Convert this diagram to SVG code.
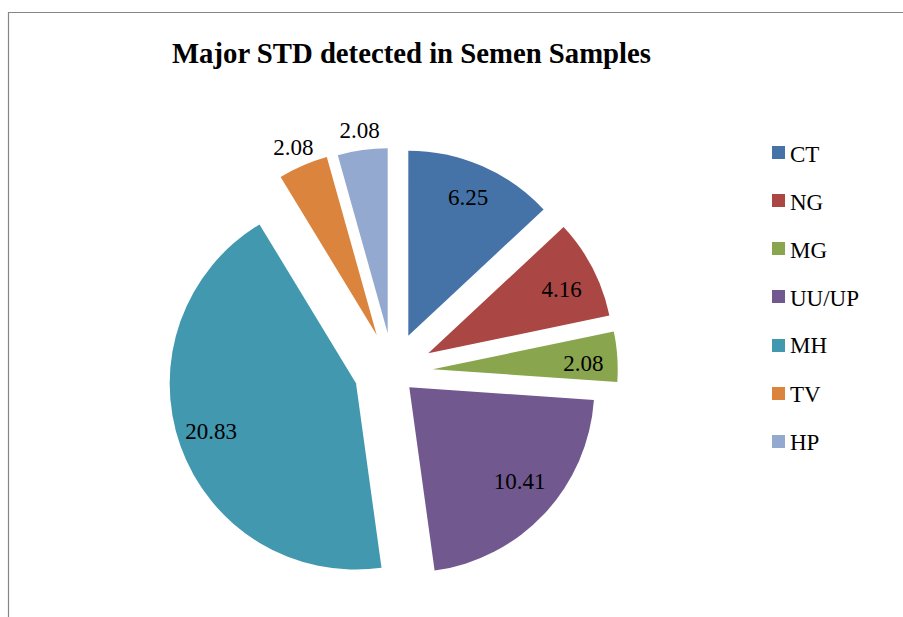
<svg xmlns="http://www.w3.org/2000/svg" width="903" height="617" viewBox="0 0 903 617">
<style>
.lbl{font-family:"Liberation Serif","Times New Roman",serif;font-size:23px;fill:#000;text-anchor:middle}
.leg{font-family:"Liberation Serif","Times New Roman",serif;font-size:23px;fill:#000}
.title{font-family:"Liberation Serif","Times New Roman",serif;font-size:30px;font-weight:bold;fill:#000;text-anchor:middle}
</style>
<rect width="903" height="617" fill="#fff"/>
<path d="M8.5,617 V12.5 H903" fill="none" stroke="#868686" stroke-width="1.2"/>
<text class="title" x="411.5" y="63" textLength="479" lengthAdjust="spacingAndGlyphs">Major STD detected in Semen Samples</text>
<g id="slice-CT"><path d="M408.3,335.7 L408.3,150.7 A185,185 0 0 1 543.6,209.5 Z" fill="#4572A7"/><text class="lbl" x="468" y="205">6.25</text></g>
<g id="slice-NG"><path d="M428.3,353.3 L563.6,227.1 A185,185 0 0 1 609.4,315.6 Z" fill="#AA4643"/><text class="lbl" x="561.5" y="297">4.16</text></g>
<g id="slice-MG"><path d="M432.7,369.3 L613.8,331.6 A185,185 0 0 1 617.3,381.9 Z" fill="#89A54E"/><text class="lbl" x="583.3" y="371">2.08</text></g>
<g id="slice-UUUP"><path d="M409.3,387.3 L593.9,399.9 A185,185 0 0 1 434.6,570.6 Z" fill="#71588F"/><text class="lbl" x="519.7" y="489">10.41</text></g>
<g id="slice-MH"><path d="M356,383.3 L381.5,567.8 A186,186 0 0 1 259.5,224.4 Z" fill="#4198AF"/><text class="lbl" x="211" y="439">20.83</text></g>
<g id="slice-TV"><path d="M376.7,335 L280.6,176.9 A185,185 0 0 1 326.8,156.9 Z" fill="#DB843D"/><text class="lbl" x="293.3" y="155">2.08</text></g>
<g id="slice-HP"><path d="M387.7,333.3 L337.8,155.2 A185,185 0 0 1 387.7,148.3 Z" fill="#93A9CF"/><text class="lbl" x="359.5" y="138.3">2.08</text></g>
<g id="legend">
<rect x="772" y="146" width="13" height="13" fill="#4572A7"/><text class="leg" x="790" y="161.7">CT</text>
<rect x="772" y="194" width="13" height="13" fill="#AA4643"/><text class="leg" x="790" y="210">NG</text>
<rect x="772" y="242" width="13" height="13" fill="#89A54E"/><text class="leg" x="790" y="257.7">MG</text>
<rect x="772" y="290" width="13" height="13" fill="#71588F"/><text class="leg" x="790" y="305.7">UU/UP</text>
<rect x="772" y="339" width="13" height="13" fill="#4198AF"/><text class="leg" x="790" y="353.3">MH</text>
<rect x="772" y="387" width="13" height="13" fill="#DB843D"/><text class="leg" x="790" y="401.7">TV</text>
<rect x="772" y="435" width="13" height="13" fill="#93A9CF"/><text class="leg" x="790" y="450">HP</text>
</g>
</svg>
